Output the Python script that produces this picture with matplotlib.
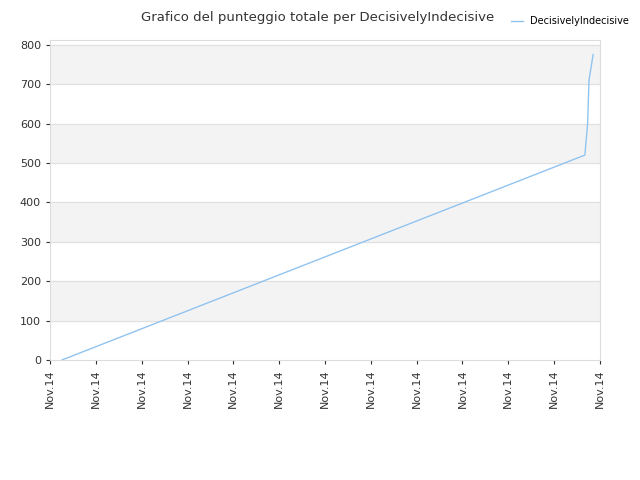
import matplotlib
matplotlib.use("Agg")
import matplotlib.pyplot as plt

tick_labels = ["Nov.14"] * 13
x_vals = [0.26, 11.67, 11.73, 11.76, 11.85]
y_vals = [0, 520, 600, 710, 775]
series_name = "DecisivelyIndecisive"

fig = plt.figure(figsize=(6.4, 4.8), dpi=100)
ax = fig.add_axes([50/640, 120/480, 550/640, 320/480])
ax.set_xlim(0, 12)
ax.set_ylim(0, 812)
for lo in range(100, 812, 200):
    ax.axhspan(lo, min(lo + 100, 812), color="#f3f3f3", zorder=0)
for y in range(100, 812, 100):
    ax.axhline(y, color="#e0e0e0", lw=0.8, zorder=1)
ax.plot(x_vals, y_vals, color="#90c4f0", lw=1, label=series_name, zorder=2)
ax.set_xticks(range(13))
ax.set_xticklabels(tick_labels, rotation=90, fontsize=8, color="#333333")
ax.set_yticks(range(0, 801, 100))
ax.tick_params(axis="y", labelsize=8, colors="#333333", length=3)
ax.tick_params(axis="x", length=3, colors="#333333")
for s in ax.spines.values():
    s.set_color("#dddddd")
fig.text(0.497, 0.977, "Grafico del punteggio totale per DecisivelyIndecisive",
         ha="center", va="top", fontsize=9.5, color="#333333")
fig.legend(loc="upper right", bbox_to_anchor=(0.997, 0.985), frameon=False, fontsize=7,
           handlelength=1.2)
fig.savefig("out.png")
